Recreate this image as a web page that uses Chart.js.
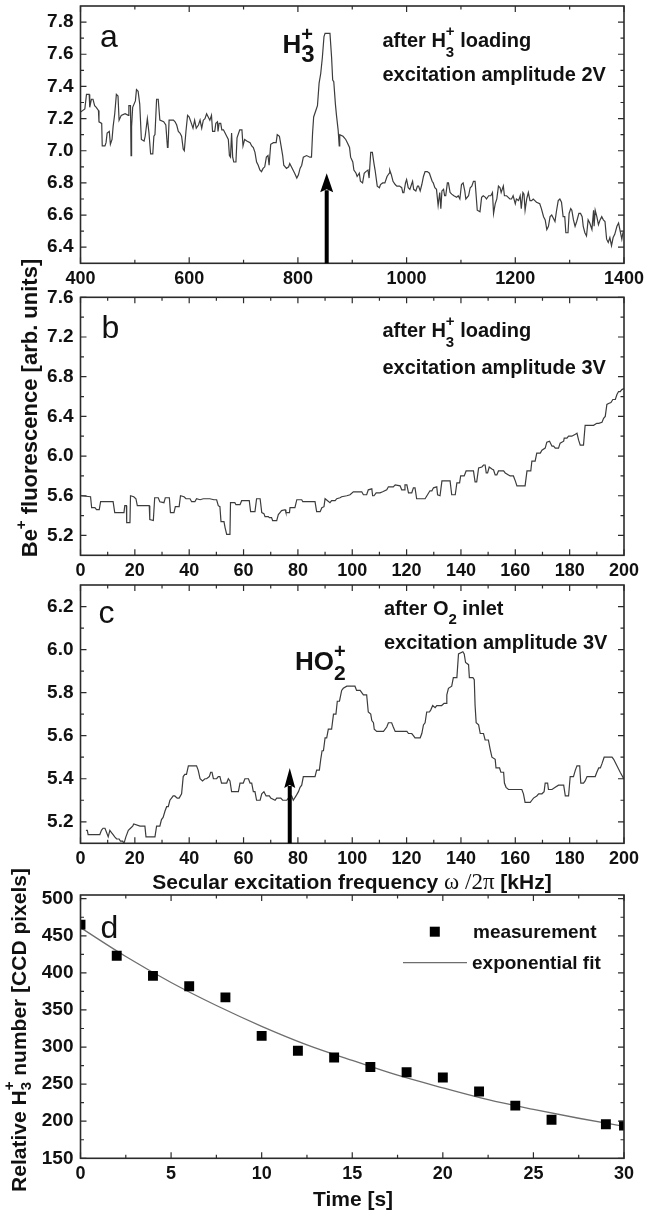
<!DOCTYPE html>
<html>
<head>
<meta charset="utf-8">
<script src="https://cdn.jsdelivr.net/npm/chart.js@4.4.1/dist/chart.umd.min.js"></script>
<style>
  body { margin: 0; background: #fff; }
  #page { position: relative; width: 645px; height: 1213px; overflow: hidden; background: #fff; }
  #page canvas { position: absolute; left: 0; }
</style>
</head>
<body>
<div id="page">
  <canvas id="chart-a" width="645" height="300" style="top:0px"></canvas>
  <canvas id="chart-b" width="645" height="360" style="top:230px"></canvas>
  <canvas id="chart-c" width="645" height="325" style="top:575px"></canvas>
  <canvas id="chart-d" width="645" height="363" style="top:850px"></canvas>
</div>
<script>
// ---- panel a : after H3+ loading, 2V, 400..1400 kHz
const a_freq = [
  400, 408, 411, 416, 417, 420, 423, 426, 429, 433,
  434, 439, 440, 445, 447, 449, 453, 455, 458, 460,
  463, 466, 469, 471, 475, 482, 488, 489, 492, 493,
  494, 496, 501, 503, 506, 509, 512, 517, 519, 523,
  526, 529, 533, 535, 537, 540, 543, 546, 553, 557,
  560, 561, 563, 571, 574, 577, 580, 583, 586, 589,
  591, 594, 597, 600, 604, 607, 610, 613, 617, 620,
  623, 626, 629, 632, 635, 638, 641, 643, 647, 649,
  652, 653, 655, 658, 660, 663, 666, 669, 672, 674,
  676, 678, 680, 682, 686, 688, 693, 697, 699, 702,
  706, 712, 715, 718, 721, 724, 727, 730, 733, 736,
  739, 742, 745, 747, 750, 755, 760, 762, 766, 768,
  772, 774, 779, 783, 785, 788, 791, 794, 798, 801,
  804, 807, 810, 816, 822, 825, 827, 829, 833, 836,
  839, 842, 845, 848, 850, 859, 862, 864, 866, 869,
  871, 874, 876,
  877, 883, 888, 891, 895, 897, 901, 903, 907, 909,
  913, 915, 919, 922, 925, 929, 931, 934, 937, 940,
  942, 946, 950, 952, 956, 960, 964, 968, 969, 972,
  975, 979, 982, 987, 991, 993, 995, 998, 1000, 1003,
  1006, 1009, 1011, 1013, 1017, 1020, 1022, 1025, 1028, 1031,
  1034, 1038, 1042, 1044, 1047, 1049, 1052, 1055, 1058, 1061,
  1063, 1065, 1068, 1070, 1072, 1075, 1077, 1080, 1083, 1087,
  1092, 1095, 1098, 1101, 1104, 1107, 1109, 1114, 1117, 1120,
  1123, 1126, 1128, 1130, 1135, 1138, 1141, 1145, 1147, 1151,
  1155, 1158, 1160, 1163, 1166, 1169, 1172, 1174, 1178, 1180,
  1184, 1187, 1190, 1193, 1196, 1200, 1202, 1206, 1209, 1211,
  1214, 1216, 1218, 1221, 1224, 1227, 1230, 1233, 1236, 1239,
  1245, 1248, 1252, 1255, 1258, 1261, 1264, 1267, 1270, 1273,
  1276, 1279, 1282, 1285, 1288, 1291, 1293, 1297, 1299, 1302,
  1304, 1307, 1310, 1313, 1317, 1320, 1323, 1325, 1328, 1331,
  1334, 1337, 1341, 1344, 1345, 1347, 1350, 1353, 1356, 1359,
  1362, 1365, 1368, 1371, 1374, 1377, 1380, 1383, 1387, 1390,
  1393, 1396, 1398, 1400
];
const a_signal = [
  7.24, 7.26, 7.35, 7.35, 7.27, 7.32, 7.32, 7.28, 7.27, 7.25,
  7.18, 7.17, 7.03, 7.03, 7.05, 7.11, 7.12, 7.04, 7.07, 7.15,
  7.23, 7.35, 7.34, 7.19, 7.22, 7.23, 7.22, 7.28, 7.28, 6.97,
  7.15, 7.27, 7.31, 7.38, 7.37, 7.29, 7.07, 7.06, 7.09, 7.20,
  7.11, 6.98, 6.98, 7.09, 7.10, 7.32, 7.32, 7.19, 7.18, 7.16,
  7.02, 7.02, 7.19, 7.19, 7.18, 7.16, 7.12, 7.11, 7.09, 7.01,
  7.00, 7.12, 7.22, 7.21, 7.17, 7.14, 7.19, 7.14, 7.16, 7.19,
  7.14, 7.19, 7.20, 7.23, 7.21, 7.19, 7.22, 7.12, 7.12, 7.17,
  7.18, 7.12, 7.17, 7.17, 7.13, 7.13, 7.11, 7.09, 7.07, 6.97,
  6.96, 7.11, 6.96, 6.93, 6.93, 7.08, 7.13, 7.13, 7.03, 7.07,
  7.06, 7.05, 7.03, 7.02, 6.99, 6.93, 6.91, 6.88, 6.87, 6.89,
  6.90, 6.96, 6.97, 6.91, 7.04, 7.05, 7.05, 7.10, 7.09, 7.05,
  6.97, 6.91, 6.89, 6.90, 6.92, 6.90, 6.88, 6.86, 6.83, 6.85,
  6.89, 6.91, 6.96, 6.97, 6.96, 6.96, 7.11, 7.21, 7.25, 7.28,
  7.42, 7.48, 7.58, 7.71, 7.73, 7.73, 7.58, 7.44, 7.43, 7.29,
  7.22, 7.13, 7.03,
  7.10, 7.09, 7.07, 7.05, 7.02, 6.96, 6.93, 6.88, 6.86, 6.84,
  6.86, 6.81, 6.80, 6.86, 6.87, 6.88, 6.83, 6.99, 6.99, 6.92,
  6.88, 6.78, 6.77, 6.79, 6.80, 6.80, 6.84, 6.86, 6.88, 6.85,
  6.81, 6.79, 6.78, 6.78, 6.77, 6.74, 6.74, 6.80, 6.82, 6.77,
  6.76, 6.79, 6.81, 6.76, 6.75, 6.78, 6.78, 6.75, 6.79, 6.84,
  6.87, 6.87, 6.86, 6.84, 6.81, 6.80, 6.77, 6.76, 6.66, 6.74,
  6.64, 6.75, 6.76, 6.72, 6.72, 6.80, 6.80, 6.74, 6.73, 6.72,
  6.71, 6.72, 6.70, 6.79, 6.80, 6.75, 6.70, 6.72, 6.77, 6.78,
  6.81, 6.81, 6.72, 6.63, 6.62, 6.71, 6.72, 6.71, 6.70, 6.72,
  6.72, 6.74, 6.61, 6.67, 6.70, 6.78, 6.77, 6.74, 6.78, 6.72,
  6.72, 6.71, 6.70, 6.70, 6.72, 6.67, 6.70, 6.69, 6.72, 6.64,
  6.74, 6.73, 6.63, 6.70, 6.74, 6.69, 6.69, 6.70, 6.69, 6.68,
  6.67, 6.64, 6.59, 6.57, 6.51, 6.53, 6.59, 6.60, 6.58, 6.56,
  6.63, 6.69, 6.70, 6.68, 6.59, 6.59, 6.49, 6.49, 6.61, 6.64,
  6.63, 6.57, 6.53, 6.56, 6.61, 6.61, 6.59, 6.53, 6.49, 6.47,
  6.57, 6.55, 6.51, 6.63, 6.53, 6.63, 6.59, 6.54, 6.57, 6.59,
  6.57, 6.56, 6.45, 6.43, 6.46, 6.41, 6.46, 6.48, 6.53, 6.55,
  6.50, 6.45, 6.49, 6.49
];
const a_x_ticks = [400, 600, 800, 1000, 1200, 1400];
const a_y_ticks = [6.4, 6.6, 6.8, 7.0, 7.2, 7.4, 7.6, 7.8];
const a_peak_freq = 853;      // arrow position
const a_peak_tip = 6.86;

// ---- panel b : after H3+ loading, 3V, 0..200 kHz
const b_freq = [
  0, 3.7, 4.1, 5.3, 5.9, 6.9, 7.4, 12.0, 12.6, 16.0,
  16.3, 16.9, 17.0, 18.2, 18.4, 19.6, 20.4, 20.9, 25.3, 25.5,
  26.8, 27.3, 28.6, 29.2, 30.7, 31.2, 32.7, 33.1, 34.4, 34.9,
  36.3, 36.8, 38.1, 38.8, 40.3, 40.9, 42.1, 42.7, 44.0, 45.2,
  47.6, 49.1, 50.1, 50.7, 51.3, 51.7, 52.8, 53.2, 53.8, 55.0,
  55.2, 56.8, 57.2, 58.7, 59.3, 62.1, 62.6, 64.2, 64.8, 66.1,
  66.7, 67.5, 67.9, 69.1, 69.5, 70.3, 70.7, 72.2, 72.8, 73.4,
  74.0, 75.3, 75.6, 76.9, 77.1, 78.9, 79.6, 81.4, 81.8, 86.3,
  86.9, 88.2, 88.8, 89.6, 90.0, 91.8, 92.4, 93.7, 94.3, 95.5,
  96.1, 98.0, 99.2,
  100.4, 103.5, 104.1, 105.3, 105.9, 107.2, 107.5, 108.0, 108.8, 110.2,
  111.2, 112.7, 113.3, 115.1, 115.8, 117.6, 118.2, 119.1, 119.4, 120.1,
  120.7, 121.9, 122.5, 123.1, 123.7, 126.8, 127.7, 128.6, 129.3, 129.9,
  131.1, 131.4, 132.3, 133.0, 136.0, 136.6, 137.9, 138.5, 139.5, 139.9,
  141.2, 141.9, 144.6, 145.2, 145.8, 146.5, 147.7, 148.3, 148.9, 149.3,
  149.8, 150.4, 151.4, 152.0, 152.6, 153.2, 153.8, 155.7, 156.3, 157.5,
  158.1, 159.3, 160.0, 160.6, 163.6, 164.3, 165.7, 166.1, 167.3, 167.9,
  169.2, 169.8, 171.0, 171.6, 172.6, 173.5, 174.1, 174.7, 175.9, 176.5,
  177.8, 178.0, 179.0, 179.6, 180.8, 182.1, 182.7, 183.3, 183.9, 185.1,
  185.7, 188.8, 190.0, 190.7, 191.9, 192.5, 193.1, 193.7, 194.3, 195.2,
  195.9, 196.8, 197.4, 198.0, 198.6, 199.2, 200
];
const b_signal = [
  5.60, 5.59, 5.48, 5.48, 5.46, 5.46, 5.54, 5.54, 5.43, 5.43,
  5.50, 5.50, 5.33, 5.33, 5.60, 5.59, 5.57, 5.50, 5.50, 5.36,
  5.35, 5.58, 5.58, 5.54, 5.53, 5.58, 5.58, 5.43, 5.43, 5.49,
  5.49, 5.60, 5.59, 5.57, 5.57, 5.54, 5.54, 5.57, 5.56, 5.57,
  5.57, 5.56, 5.56, 5.50, 5.49, 5.34, 5.34, 5.28, 5.21, 5.21,
  5.53, 5.53, 5.51, 5.51, 5.55, 5.55, 5.44, 5.44, 5.57, 5.57,
  5.43, 5.42, 5.39, 5.39, 5.38, 5.38, 5.35, 5.35, 5.41, 5.43,
  5.45, 5.46, 5.43, 5.43, 5.48, 5.48, 5.56, 5.56, 5.54, 5.54,
  5.44, 5.44, 5.48, 5.49, 5.57, 5.53, 5.55, 5.55, 5.57, 5.58,
  5.59, 5.60, 5.61,
  5.64, 5.64, 5.61, 5.61, 5.66, 5.67, 5.60, 5.60, 5.63, 5.63,
  5.64, 5.66, 5.69, 5.69, 5.71, 5.70, 5.66, 5.66, 5.71, 5.71,
  5.63, 5.63, 5.68, 5.68, 5.57, 5.57, 5.61, 5.65, 5.65, 5.68,
  5.69, 5.61, 5.60, 5.75, 5.75, 5.61, 5.61, 5.73, 5.73, 5.80,
  5.80, 5.85, 5.85, 5.74, 5.74, 5.88, 5.89, 5.91, 5.91, 5.83,
  5.83, 5.89, 5.87, 5.86, 5.81, 5.81, 5.85, 5.85, 5.83, 5.81,
  5.80, 5.80, 5.75, 5.70, 5.70, 5.85, 5.85, 5.95, 5.95, 6.03,
  6.03, 6.06, 6.08, 6.14, 6.15, 6.10, 6.10, 6.08, 6.08, 6.13,
  6.15, 6.18, 6.18, 6.20, 6.20, 6.22, 6.23, 6.16, 6.11, 6.11,
  6.31, 6.31, 6.33, 6.33, 6.34, 6.38, 6.40, 6.52, 6.53, 6.54,
  6.57, 6.57, 6.62, 6.65, 6.65, 6.67, 6.68
];
const b_x_ticks = [0, 20, 40, 60, 80, 100, 120, 140, 160, 180, 200];
const b_y_ticks = [5.2, 5.6, 6.0, 6.4, 6.8, 7.2, 7.6];

// ---- panel c : after O2 inlet, 3V
const c_freq = [
  2.0, 2.5, 2.8, 7.1, 7.7, 8.3, 9.0, 9.6, 10.2, 10.8,
  11.4, 12.0, 12.6, 13.3, 14.2, 14.7, 15.5, 16.0, 16.7, 17.6,
  18.4, 19.2, 19.6, 21.9, 22.5, 23.7, 24.1, 27.4, 28.0, 29.2,
  29.8, 30.4, 31.1, 31.7, 32.3, 32.9, 33.5, 34.1, 34.7, 35.6,
  36.3, 37.2, 37.8, 38.4, 39.0, 39.7, 42.7, 43.3, 44.0, 44.9,
  45.8, 46.4, 47.4, 47.9, 48.4, 48.9, 50.1, 50.7, 51.3, 51.9,
  53.8, 54.4, 55.0, 55.6, 58.1, 58.7, 59.9, 60.5, 61.8, 62.4,
  63.0, 63.6, 64.2, 64.8, 66.1, 66.7, 67.5, 68.3, 69.5, 70.0,
  71.6, 72.2, 73.7, 74.4, 75.9, 77.1, 77.7, 78.3, 79.3, 80.2,
  80.8, 81.4, 82.0, 85.7, 86.3, 86.9, 87.9, 88.4, 88.9, 89.4,
  90.0, 90.6, 91.2, 92.4, 93.1, 94.0, 94.5, 95.3,
  96.1, 96.7, 98.0, 101.0, 101.6, 102.9, 104.1, 105.3, 105.9, 106.8,
  107.2, 107.8, 108.1, 109.0, 110.2, 111.5, 112.7, 113.3, 114.5, 115.1,
  115.8, 120.1, 120.7, 121.9, 122.5, 123.1, 125.0, 125.6, 126.2, 126.8,
  127.4, 128.4, 128.9, 129.6, 130.5, 131.1, 132.3, 132.9, 133.8, 134.5,
  134.8, 135.4, 136.6, 137.2, 138.5, 139.1, 140.7, 141.2, 141.7, 142.8,
  143.1, 144.4, 144.9, 145.2, 145.6, 146.5, 147.1, 148.3, 148.9, 150.1,
  150.7, 151.4, 152.6, 152.9, 154.2, 154.7, 155.7, 156.0, 156.6, 157.5,
  158.7, 161.2, 162.4, 163.0, 163.6, 165.5, 166.1, 166.7, 167.9, 168.6,
  169.8, 170.6, 171.0, 171.9, 172.2, 173.5, 174.7, 175.9, 177.8, 178.4,
  179.6, 180.2, 181.4, 182.1, 182.7, 183.7, 184.1, 185.1, 185.7, 186.4,
  187.3, 188.2, 189.4, 190.0, 190.7, 191.3, 191.9, 192.7, 195.6, 196.2,
  197.4, 198.6, 199.9
];
const c_signal = [
  5.16, 5.16, 5.14, 5.14, 5.16, 5.17, 5.17, 5.15, 5.13, 5.16,
  5.15, 5.14, 5.13, 5.12, 5.12, 5.11, 5.11, 5.10, 5.13, 5.16,
  5.17, 5.18, 5.19, 5.18, 5.18, 5.18, 5.13, 5.13, 5.18, 5.18,
  5.21, 5.22, 5.25, 5.27, 5.27, 5.30, 5.31, 5.32, 5.32, 5.31,
  5.31, 5.33, 5.41, 5.42, 5.42, 5.46, 5.46, 5.44, 5.40, 5.39,
  5.40, 5.40, 5.41, 5.43, 5.43, 5.40, 5.40, 5.41, 5.41, 5.38,
  5.38, 5.40, 5.39, 5.34, 5.34, 5.38, 5.38, 5.40, 5.40, 5.38,
  5.38, 5.34, 5.34, 5.30, 5.30, 5.33, 5.34, 5.32, 5.32, 5.31,
  5.30, 5.31, 5.31, 5.30, 5.30, 5.32, 5.32, 5.30, 5.32, 5.34,
  5.36, 5.37, 5.41, 5.41, 5.41, 5.44, 5.44, 5.49, 5.53, 5.53,
  5.59, 5.59, 5.63, 5.63, 5.70, 5.70, 5.76, 5.76,
  5.81, 5.82, 5.83, 5.83, 5.81, 5.81, 5.79, 5.79, 5.71, 5.70,
  5.67, 5.66, 5.63, 5.62, 5.62, 5.62, 5.64, 5.66, 5.66, 5.64,
  5.62, 5.62, 5.61, 5.61, 5.60, 5.59, 5.59, 5.61, 5.65, 5.66,
  5.71, 5.71, 5.72, 5.74, 5.73, 5.74, 5.74, 5.74, 5.75, 5.75,
  5.79, 5.82, 5.83, 5.87, 5.87, 5.98, 5.99, 5.98, 5.94, 5.93,
  5.87, 5.87, 5.86, 5.74, 5.66, 5.65, 5.61, 5.61, 5.58, 5.58,
  5.54, 5.50, 5.49, 5.45, 5.45, 5.43, 5.43, 5.38, 5.36, 5.35,
  5.35, 5.35, 5.35, 5.33, 5.29, 5.29, 5.30, 5.31, 5.32, 5.33,
  5.33, 5.34, 5.38, 5.38, 5.35, 5.35, 5.36, 5.37, 5.37, 5.32,
  5.32, 5.41, 5.41, 5.44, 5.46, 5.46, 5.38, 5.38, 5.39, 5.41,
  5.41, 5.41, 5.41, 5.43, 5.45, 5.45, 5.47, 5.50, 5.50, 5.49,
  5.46, 5.43, 5.40
];
const c_x_ticks = [0, 20, 40, 60, 80, 100, 120, 140, 160, 180, 200];
const c_y_ticks = [5.2, 5.4, 5.6, 5.8, 6.0, 6.2];
const c_peak_freq = 77;
const c_peak_tip = 5.45;

// ---- panel d : H3+ decay
const d_time = [0, 2, 4, 6, 8, 10, 12, 14, 16, 18, 20, 22, 24, 26, 29, 30];
const d_count = [465, 423, 396, 382, 367, 315, 295, 286, 273, 266, 259, 240, 221, 202, 196, 194];
const d_fit_time = [0, 2.5, 5, 7.5, 10, 12.5, 15, 17.5, 20, 22.5, 25, 27.5, 30];
const d_fit_count = [461, 422, 387, 356, 328, 303, 282, 262, 245, 229, 216, 204, 193];
const d_x_ticks = [0, 5, 10, 15, 20, 25, 30];
const d_y_ticks = [150, 200, 250, 300, 350, 400, 450, 500];

const SANS = "'Liberation Sans', Arial, Helvetica, sans-serif";
const SERIF = "'Liberation Serif', 'Times New Roman', serif";
const TEXT = '#111';
const AXIS = '#2b2b2b';
const TRACE = '#3c3c3c';
const Y_AXIS_W = 80.5;
const RIGHT_PAD = 21;

Chart.defaults.font.family = SANS;

function to_points(xs, ys) {
    const n = Math.min(xs.length, ys.length);
    const pts = [];
    for (let i = 0; i < n; i++) pts.push({ x: xs[i], y: ys[i] });
    return pts;
}

// majors plus the half-way minor ticks that fall inside the range
function with_minor(ticks, min, max) {
    const out = ticks.map(v => ({ value: v, major: true }));
    const step = ticks[1] - ticks[0];
    const minors = [];
    for (let i = 0; i < ticks.length - 1; i++) minors.push((ticks[i] + ticks[i + 1]) / 2);
    minors.push(ticks[0] - step / 2, ticks[ticks.length - 1] + step / 2);
    minors.forEach(v => {
        if (v > min + 1e-9 && v < max - 1e-9) out.push({ value: v, major: false });
    });
    return out;
}

// text with sub/superscripts; returns width
function lay_parts(ctx, parts, x, y, size, draw) {
    let cx = x, prev_x = x;
    for (const p of parts) {
        const small = p.sub || p.sup;
        const s = p.size || (small ? size * 0.72 : size);
        ctx.font = `${p.weight || 'bold'} ${s}px ${p.family || SANS}`;
        const w = ctx.measureText(p.text).width;
        const px = p.over ? prev_x : cx;
        let dy = 0;
        if (p.sub) dy = size * 0.5;
        if (p.sup) dy = -size * 0.6;
        if (p.dy !== undefined) dy = p.dy;
        if (draw) ctx.fillText(p.text, px, y + dy);
        if (p.over) cx = Math.max(cx, prev_x + w);
        else { prev_x = cx; cx += w; }
    }
    return cx - x;
}

function draw_centered(ctx, parts, cx, cy, size, rotate) {
    ctx.save();
    ctx.translate(cx, cy);
    if (rotate) ctx.rotate(-Math.PI / 2);
    ctx.fillStyle = TEXT;
    ctx.textBaseline = 'middle';
    ctx.textAlign = 'left';
    const w = lay_parts(ctx, parts, 0, 0, size, false);
    lay_parts(ctx, parts, -w / 2, 0, size, true);
    ctx.restore();
}

function draw_text(ctx, parts, x, y, size) {
    ctx.save();
    ctx.fillStyle = TEXT;
    ctx.textBaseline = 'alphabetic';
    ctx.textAlign = 'left';
    lay_parts(ctx, parts, x, y, size, true);
    ctx.restore();
}

function draw_letter(ctx, letter, x, y) {
    ctx.save();
    ctx.fillStyle = TEXT;
    ctx.textBaseline = 'alphabetic';
    ctx.font = `normal 32px ${SANS}`;
    ctx.fillText(letter, x, y);
    ctx.restore();
}

function draw_arrow(ctx, x, y_tip, y_base, shaft, head_w, head_h) {
    ctx.save();
    ctx.fillStyle = '#000';
    ctx.fillRect(x - shaft / 2, y_tip + head_h - 2, shaft, y_base - (y_tip + head_h - 2));
    ctx.beginPath();
    ctx.moveTo(x, y_tip);
    ctx.lineTo(x - head_w / 2, y_tip + head_h);
    ctx.lineTo(x, y_tip + head_h - 3);
    ctx.lineTo(x + head_w / 2, y_tip + head_h);
    ctx.closePath();
    ctx.fill();
    ctx.restore();
}

function make_frame(cfg) {
    return {
        id: 'frame',
        afterDraw(chart) {
            const ctx = chart.ctx;
            const area = chart.chartArea;
            const sx = chart.scales.x, sy = chart.scales.y;
            ctx.save();
            ctx.strokeStyle = AXIS;
            ctx.lineWidth = 1.2;
            ctx.beginPath();
            with_minor(cfg.x_ticks, sx.min, sx.max).forEach(t => {
                const px = sx.getPixelForValue(t.value);
                const len = t.major ? 6 : 3.5;
                ctx.moveTo(px, area.bottom); ctx.lineTo(px, area.bottom - len);
                ctx.moveTo(px, area.top); ctx.lineTo(px, area.top + len);
            });
            with_minor(cfg.y_ticks, sy.min, sy.max).forEach(t => {
                const py = sy.getPixelForValue(t.value);
                const len = t.major ? 6 : 3.5;
                ctx.moveTo(area.left, py); ctx.lineTo(area.left + len, py);
                ctx.moveTo(area.right, py); ctx.lineTo(area.right - len, py);
            });
            ctx.stroke();
            ctx.lineWidth = 1.6;
            ctx.strokeRect(area.left, area.top, area.right - area.left, area.bottom - area.top);
            ctx.restore();
            if (cfg.draw) cfg.draw(chart, ctx, area);
        }
    };
}

function make_panel(id, cfg) {
    const zero_pad = s => { s.paddingLeft = 0; s.paddingRight = 0; s.paddingTop = 0; s.paddingBottom = 0; };
    return new Chart(document.getElementById(id), {
        type: 'line',
        data: { datasets: cfg.datasets },
        options: {
            responsive: false,
            animation: false,
            devicePixelRatio: 1,
            events: [],
            layout: { padding: { left: 0, right: RIGHT_PAD, top: cfg.top, bottom: 0 } },
            plugins: { legend: { display: false }, tooltip: { enabled: false } },
            scales: {
                x: {
                    type: 'linear',
                    min: cfg.x_min,
                    max: cfg.x_max,
                    grid: { display: false, drawTicks: false },
                    border: { display: false },
                    ticks: {
                        padding: 5, color: TEXT, autoSkip: false, maxRotation: 0,
                        font: { family: SANS, size: 18, weight: 'bold' },
                        callback: v => String(v)
                    },
                    afterBuildTicks: s => { s.ticks = cfg.x_ticks.map(v => ({ value: v })); },
                    afterFit: s => { s.height = cfg.x_height; zero_pad(s); }
                },
                y: {
                    type: 'linear',
                    min: cfg.y_min,
                    max: cfg.y_max,
                    grid: { display: false, drawTicks: false },
                    border: { display: false },
                    ticks: {
                        padding: 7, color: TEXT, autoSkip: false,
                        font: { family: SANS, size: 19, weight: 'bold' },
                        callback: cfg.y_fmt
                    },
                    afterBuildTicks: s => { s.ticks = cfg.y_ticks.map(v => ({ value: v })); },
                    afterFit: s => { s.width = Y_AXIS_W; zero_pad(s); }
                }
            }
        },
        plugins: [make_frame(cfg)]
    });
}

function trace(xs, ys) {
    return {
        data: to_points(xs, ys),
        borderColor: TRACE,
        borderWidth: 1.2,
        pointRadius: 0,
        tension: 0,
        fill: false,
        clip: 0
    };
}

const one_decimal = v => v.toFixed(1);

const after_h3 = [
    { text: 'after H' }, { text: '3', sub: true, size: 15, dy: 10 },
    { text: '+', sup: true, size: 15, dy: -11, over: true }, { text: ' loading' }
];

make_panel('chart-a', {
    top: 6, x_height: 36.7,
    x_min: 400, x_max: 1400, y_min: 6.3, y_max: 7.9,
    x_ticks: a_x_ticks, y_ticks: a_y_ticks, y_fmt: one_decimal,
    datasets: [trace(a_freq, a_signal)],
    draw: (chart, ctx, area) => {
        const sx = chart.scales.x, sy = chart.scales.y;
        draw_arrow(ctx, sx.getPixelForValue(a_peak_freq), sy.getPixelForValue(a_peak_tip), area.bottom, 4, 13, 19);
        draw_letter(ctx, 'a', area.left + 19.5, area.top + 41);
        draw_text(ctx, [
            { text: 'H', size: 26 }, { text: '3', size: 24, dy: 9 },
            { text: '+', size: 20, dy: -12, over: true }
        ], area.left + 202, area.top + 46.7, 26);
        draw_text(ctx, after_h3, area.left + 302, area.top + 40.7, 20);
        draw_text(ctx, [{ text: 'excitation amplitude 2V' }], area.left + 302, area.top + 74.5, 20);
    }
});

make_panel('chart-b', {
    top: 67.3, x_height: 34.7,
    x_min: 0, x_max: 200, y_min: 5.0, y_max: 7.6,
    x_ticks: b_x_ticks, y_ticks: b_y_ticks, y_fmt: one_decimal,
    datasets: [trace(b_freq, b_signal)],
    draw: (chart, ctx, area) => {
        draw_letter(ctx, 'b', area.left + 21, area.top + 41);
        draw_text(ctx, after_h3, area.left + 302, area.top + 39.4, 20);
        draw_text(ctx, [{ text: 'excitation amplitude 3V' }], area.left + 302, area.top + 76.7, 20);
        // shared y title for panels a-c
        draw_centered(ctx, [
            { text: 'Be' }, { text: '+', sup: true, size: 15, dy: -9 },
            { text: ' fluorescence [arb. units]' }
        ], 31, 178, 22, true);
    }
});

make_panel('chart-c', {
    top: 10, x_height: 56.7,
    x_min: 0, x_max: 200, y_min: 5.1, y_max: 6.3,
    x_ticks: c_x_ticks, y_ticks: c_y_ticks, y_fmt: one_decimal,
    datasets: [trace(c_freq, c_signal)],
    draw: (chart, ctx, area) => {
        const sx = chart.scales.x, sy = chart.scales.y;
        draw_arrow(ctx, sx.getPixelForValue(c_peak_freq), sy.getPixelForValue(c_peak_tip), area.bottom, 4, 11, 20);
        draw_letter(ctx, 'c', area.left + 18, area.top + 38.3);
        draw_text(ctx, [
            { text: 'HO', size: 26 }, { text: '2', size: 21, dy: 10 },
            { text: '+', size: 20, dy: -12, over: true }
        ], area.left + 214.5, area.top + 85, 26);
        draw_text(ctx, [{ text: 'after O' }, { text: '2', sub: true, size: 15, dy: 9 }, { text: ' inlet' }],
            area.left + 303.5, area.top + 30, 20);
        draw_text(ctx, [{ text: 'excitation amplitude 3V' }], area.left + 303.5, area.top + 64.3, 20);
        draw_centered(ctx, [
            { text: 'Secular excitation frequency ' },
            { text: '\u03c9 /2\u03c0', family: SERIF, weight: 'normal', size: 23 },
            { text: ' [kHz]' }
        ], 352, 308, 21, false);
    }
});

make_panel('chart-d', {
    top: 45, x_height: 54.7,
    x_min: 0, x_max: 30, y_min: 150, y_max: 505,
    x_ticks: d_x_ticks, y_ticks: d_y_ticks, y_fmt: v => String(v),
    datasets: [
        {
            data: to_points(d_time, d_count),
            showLine: false,
            pointStyle: 'rect',
            pointRadius: 7,
            pointBackgroundColor: '#000',
            pointBorderWidth: 0,
            clip: 0
        },
        {
            data: to_points(d_fit_time, d_fit_count),
            borderColor: '#6e6e6e',
            borderWidth: 1.3,
            pointRadius: 0,
            cubicInterpolationMode: 'monotone',
            fill: false,
            clip: 0
        }
    ],
    draw: (chart, ctx, area) => {
        draw_letter(ctx, 'd', area.left + 20, area.top + 43.3);
        // legend
        ctx.save();
        ctx.fillStyle = '#000';
        ctx.fillRect(area.left + 349.3, area.top + 31.7, 10, 10);
        ctx.strokeStyle = '#6e6e6e';
        ctx.lineWidth = 1.3;
        ctx.beginPath();
        ctx.moveTo(area.left + 322.5, area.top + 67.7);
        ctx.lineTo(area.left + 386.5, area.top + 67.7);
        ctx.stroke();
        ctx.fillStyle = TEXT;
        ctx.textBaseline = 'middle';
        ctx.font = `bold 19px ${SANS}`;
        ctx.fillText('measurement', area.left + 392.5, area.top + 38);
        ctx.fillText('exponential fit', area.left + 391.5, area.top + 69);
        ctx.restore();
        draw_centered(ctx, [
            { text: 'Relative H' }, { text: '3', sub: true, size: 15, dy: 7 },
            { text: '+', sup: true, size: 15, dy: -10, over: true },
            { text: ' number [CCD pixels]' }
        ], 20, 180, 21, true);
        draw_centered(ctx, [{ text: 'Time [s]' }], 353, 350, 21, false);
    }
});
</script>
</body>
</html>
